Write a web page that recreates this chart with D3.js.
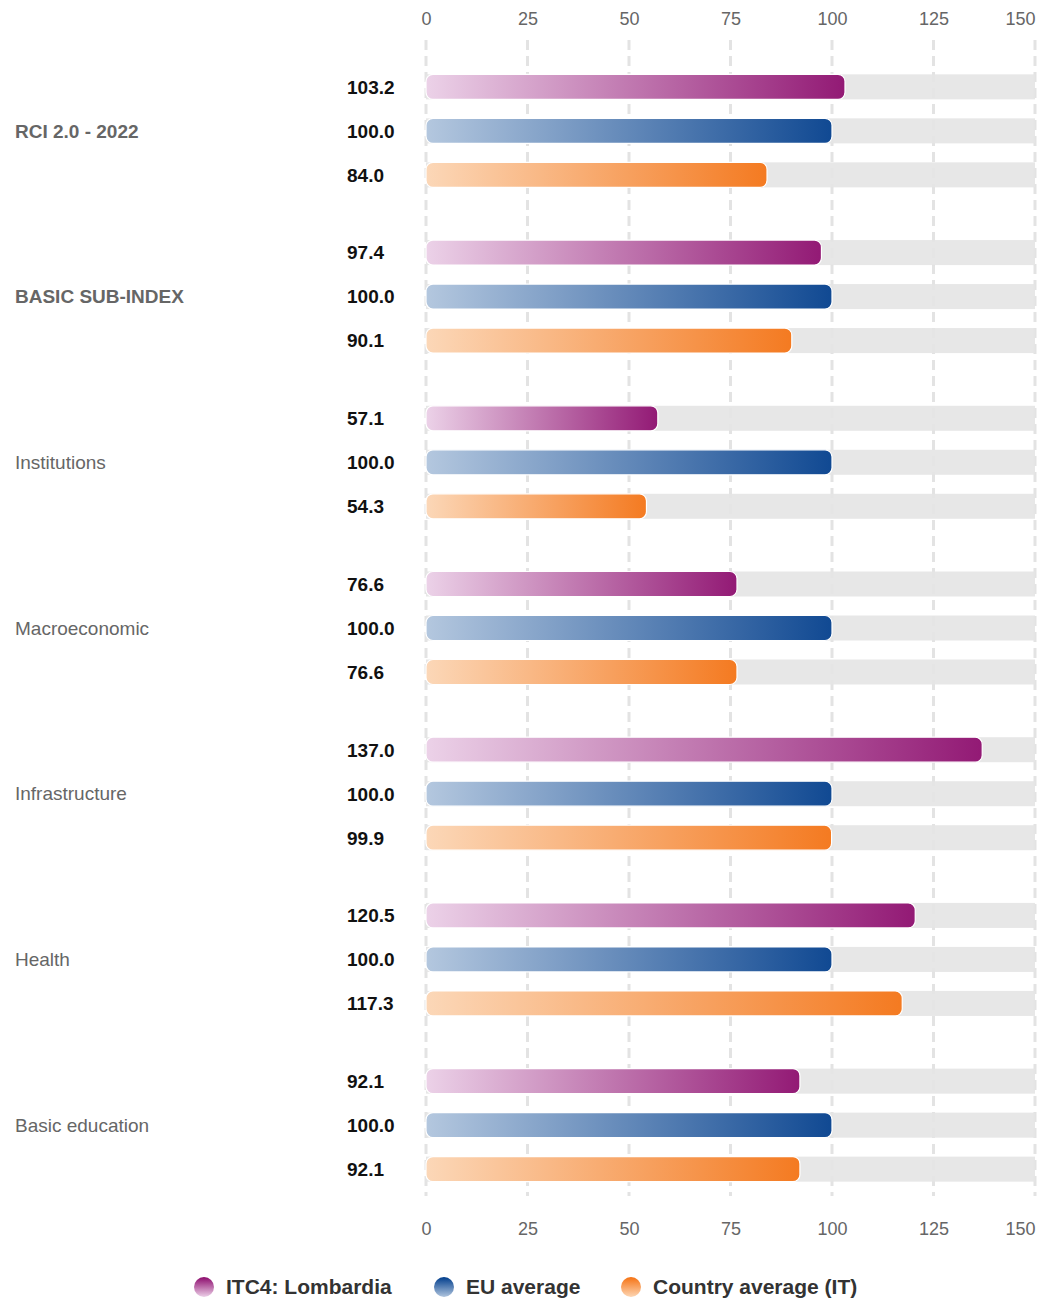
<!DOCTYPE html>
<html><head><meta charset="utf-8">
<script src="https://cdn.jsdelivr.net/npm/d3@7"></script>
<style>body{margin:0;background:#fff;}svg{display:block;font-family:"Liberation Sans",Arial,sans-serif;}</style>
</head><body>
<svg id="chart" width="1040" height="1300"></svg>
<script>
const categories = ["RCI 2.0 - 2022","BASIC SUB-INDEX","Institutions","Macroeconomic","Infrastructure","Health","Basic education"];
const boldCategories = ["RCI 2.0 - 2022","BASIC SUB-INDEX"];
const seriesNames = ["ITC4: Lombardia","EU average","Country average (IT)"];
const lombardia = [103.2,97.4,57.1,76.6,137.0,120.5,92.1];
const euAverage = [100.0,100.0,100.0,100.0,100.0,100.0,100.0];
const countryAverage = [84.0,90.1,54.3,76.6,99.9,117.3,92.1];
const tickValues = [0,25,50,75,100,125,150];
const gradStops = [["#ecd0e8","#8c0a6c"],["#b0c5de","#003d8c"],["#fdd6b4","#f57212"]];

const series = [lombardia, euAverage, countryAverage];
const svg = d3.select("#chart");
const x = d3.scaleLinear().domain([0,150]).range([426,1035]);
const yGroup = d3.scaleBand().domain(categories).range([48,1208]).paddingInner(0).paddingOuter(0);
const ySub = d3.scalePoint().domain(d3.range(3)).range([yGroup.bandwidth()/2-44, yGroup.bandwidth()/2+44]);
const barH = 25;

const defs = svg.append("defs");
gradStops.forEach((g,i)=>{
  const lg = defs.append("linearGradient").attr("id","g"+i).attr("x1","0").attr("x2","1").attr("y1","0").attr("y2","0");
  lg.append("stop").attr("offset","0%").attr("stop-color",g[0]);
  lg.append("stop").attr("offset","100%").attr("stop-color",g[1]);
  const lv = defs.append("linearGradient").attr("id","v"+i).attr("x1","0").attr("x2","0").attr("y1","0").attr("y2","1");
  lv.append("stop").attr("offset","0%").attr("stop-color",g[1]);
  lv.append("stop").attr("offset","100%").attr("stop-color",g[0]);
});

// grid
svg.append("g").selectAll("line").data(tickValues).join("line")
  .attr("x1",d=>x(d)).attr("x2",d=>x(d)).attr("y1",40).attr("y2",1196)
  .attr("stroke","#e3e3e3").attr("stroke-width",3).attr("stroke-dasharray","10,6");

// axes
const topAxis = d3.axisTop(x).tickValues(tickValues).tickSize(0).tickPadding(0);
const gt = svg.append("g").attr("transform","translate(0,25)").call(topAxis);
const botAxis = d3.axisBottom(x).tickValues(tickValues).tickSize(0).tickPadding(0);
const gb = svg.append("g").attr("transform","translate(0,1222)").call(botAxis);
[gt,gb].forEach(g=>{
  g.select(".domain").remove();
  g.selectAll("text").attr("font-size",18).attr("fill","#666").attr("font-family","Liberation Sans, Arial, sans-serif")
    .attr("text-anchor",d=>d===150?"end":"middle");
});

// groups
const groups = svg.append("g").selectAll("g").data(categories).join("g")
  .attr("transform",d=>`translate(0,${yGroup(d)})`);

groups.append("text").attr("x",15).attr("y",yGroup.bandwidth()/2).attr("dy","0.35em")
  .attr("font-size",19).attr("fill","#666")
  .attr("font-weight",d=>boldCategories.includes(d)?"bold":"normal")
  .text(d=>d);

groups.each(function(cat,ci){
  const g = d3.select(this);
  const rows = series.map((s,si)=>({v:s[ci],si}));
  g.selectAll("rect.track").data(rows).join("rect").attr("class","track")
    .attr("x",x(0)).attr("width",x(150)-x(0))
    .attr("y",d=>ySub(d.si)-barH/2).attr("height",barH)
    .attr("fill","#e5e5e5").attr("fill-opacity",0.92);
  g.selectAll("rect.bar").data(rows).join("rect").attr("class","bar")
    .attr("x",x(0)).attr("width",d=>x(d.v)-x(0))
    .attr("y",d=>ySub(d.si)-barH/2).attr("height",barH)
    .attr("rx",7).attr("ry",7)
    .attr("fill",d=>`url(#g${d.si})`).attr("fill-opacity",0.93)
    .attr("stroke","#fff").attr("stroke-width",1.2);
  g.selectAll("text.val").data(rows).join("text").attr("class","val")
    .attr("x",347).attr("y",d=>ySub(d.si)).attr("dy","0.36em")
    .attr("font-size",19).attr("font-weight","bold").attr("fill","#111")
    .text(d=>d3.format(".1f")(d.v));
});

// legend
const legendX = [204,444,631];
const lg = svg.append("g").attr("transform","translate(0,1287)");
const items = lg.selectAll("g").data(seriesNames).join("g").attr("transform",(d,i)=>`translate(${legendX[i]},0)`);
items.append("circle").attr("r",10).attr("fill",(d,i)=>`url(#v${i})`);
items.append("text").attr("x",22).attr("dy","0.35em").attr("font-size",21).attr("font-weight","bold")
  .attr("fill","#333").text(d=>d);
</script>
</body></html>
